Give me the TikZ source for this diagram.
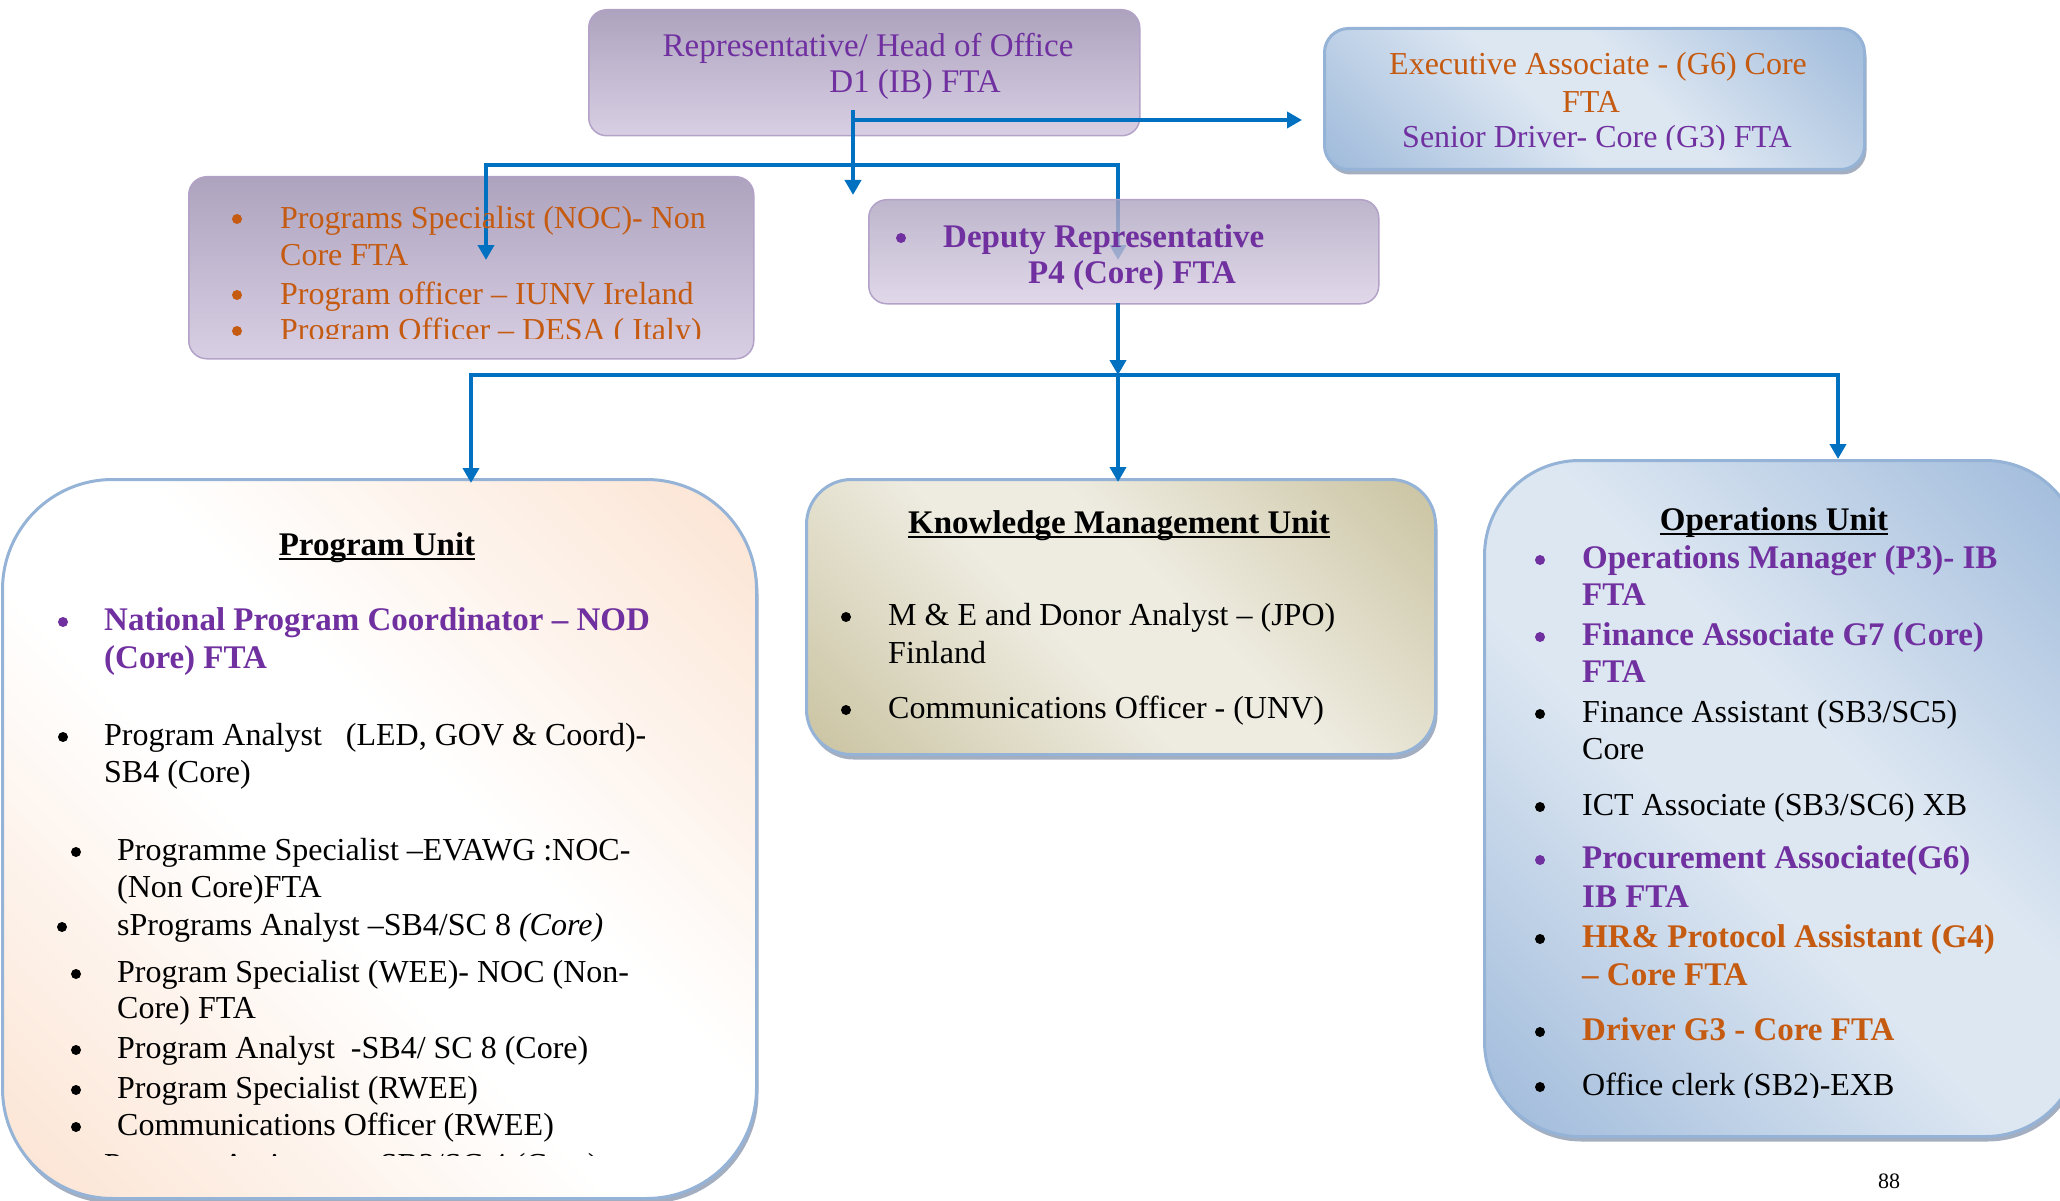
\documentclass[tikz,border=0pt]{standalone}
\usepackage{fontspec}
\setmainfont{Liberation Serif}
\usetikzlibrary{arrows.meta,shadows,calc}

\definecolor{txtpurple}{HTML}{7030A0}
\definecolor{txtorange}{HTML}{C55A11}
\definecolor{linkblue}{HTML}{0070C0}
\definecolor{lavtop}{HTML}{ADA3BE}
\definecolor{lavbot}{HTML}{D9CFE4}
\definecolor{lavedge}{HTML}{B3A2C7}
\definecolor{skyedge}{HTML}{95B3D7}
\definecolor{skydark}{HTML}{95B3D7}
\definecolor{skylight}{HTML}{DDE7F2}
\definecolor{tandark}{HTML}{C4BD97}
\definecolor{tanlight}{HTML}{EEECE1}
\definecolor{peach}{HTML}{FBDFCB}
\definecolor{shadowgrey}{HTML}{8C9AB0}
\colorlet{banddark}{skydark}
\colorlet{bandlight}{skylight}

% dark corners (top right, bottom left) with a broad light diagonal band
\pgfdeclarehorizontalshading[banddark,bandlight]{diagband}{100bp}{%
  color(0bp)=(banddark); color(10bp)=(banddark); color(44bp)=(bandlight);
  color(56bp)=(bandlight); color(90bp)=(banddark); color(100bp)=(banddark)}

\tikzset{
  lavbox/.style={draw=lavedge, line width=1.5, top color=lavtop, bottom color=lavbot,
    rounded corners=18, inner sep=0, anchor=north west},
  diagfill/.style 2 args={/utils/exec={\colorlet{banddark}{#1}\colorlet{bandlight}{#2}},
    shade, shading=diagband, shading angle=45},
  unitbox/.style={draw=skyedge, line width=3, inner sep=0, anchor=north west,
    drop shadow={shadow xshift=2pt, shadow yshift=-5pt, fill=shadowgrey, opacity=0.8}},
  link/.style={draw=linkblue, line width=4},
  tip/.style={-{Triangle[length=15pt,width=16pt]}},
  txt/.style={inner sep=0, font=\fontsize{32}{37}\selectfont},
  btxt/.style={inner sep=0, font=\fontsize{33}{37}\selectfont\bfseries},
  dot/.style={circle, fill=#1, inner sep=0, minimum size=10},
  uline/.style={line width=2},
}

\begin{document}
\begin{tikzpicture}[x=1pt,y=-1pt]
\useasboundingbox (0,0) rectangle (2060,1201);

% ---------- upper boxes ----------
\node[lavbox, minimum width=551, minimum height=126] (rep) at (588,9) {};
\node[unitbox, diagfill={skydark}{skylight}, rounded corners=24,
      minimum width=540, minimum height=141] (exe) at (1323,27) {};
\node[lavbox, minimum width=565, minimum height=182] (noc) at (188,176) {};

% ---------- lower unit boxes ----------
\node[unitbox, diagfill={peach}{white}, rounded corners=110,
      minimum width=754, minimum height=719] (pu) at (1,478) {};
\node[unitbox, diagfill={tandark}{tanlight}, rounded corners=45,
      minimum width=629, minimum height=275] (km) at (805,478) {};
\node[unitbox, diagfill={skydark}{skylight}, rounded corners=95,
      minimum width=596, minimum height=676] (ops) at (1483,459) {};

% ---------- connectors from the head of office ----------
\coordinate (repdrop) at (853,110);
\coordinate (repdroptip) at (853,195);
\coordinate (repside) at (851,120);
\coordinate (repsidetip) at (1302,120);
\coordinate (busL) at (486,165);
\coordinate (busR) at (1118,165);
\coordinate (noctip) at (486,260);
\coordinate (deptip) at (1118,260);

\draw[link, tip] (repdrop) -- (repdroptip);
\draw[link, tip] (repside) -- (repsidetip);
\draw[link, {Triangle[length=15pt,width=16pt]}-{Triangle[length=15pt,width=16pt]}]
  (noctip) -- (busL) -- (busR) -- (deptip);

% deputy box sits over its incoming arrow
\node[lavbox, fill opacity=0.8, minimum width=510, minimum height=104] (dep) at (868,199) {};

% ---------- connectors from the deputy ----------
\coordinate (depout) at (1118,303);
\coordinate (bus2L) at (471,375);
\coordinate (bus2M) at (1118,375);
\coordinate (bus2R) at (1838,375);
\coordinate (putip) at (471,483);
\coordinate (kmtip) at (1118,482);
\coordinate (opstip) at (1838,459);

\draw[link, tip] (depout) -- (bus2M);
\draw[link, {Triangle[length=15pt,width=16pt]}-{Triangle[length=15pt,width=16pt]}]
  (putip) -- (bus2L) -- (bus2R) -- (opstip);
\draw[link, tip] (bus2M) -- (kmtip);

% ---------- head of office ----------
\node[txt, font=\fontsize{33}{37}\selectfont, text=txtpurple, anchor=base] (rep1) at (868,57) {Representative/ Head of Office};
\node[txt, font=\fontsize{33}{37}\selectfont, text=txtpurple, anchor=base] (rep2) at (915,93) {D1 (IB) FTA};

% ---------- executive associate ----------
\node[txt, text=txtorange, anchor=base] (exe1) at (1598,75) {Executive Associate - (G6) Core};
\node[txt, text=txtorange, anchor=base] (exe2) at (1591,113) {FTA};
\begin{scope}
  \clip (1323,27) rectangle (1863,150);
  \node[txt, text=txtpurple, anchor=base] (exe3) at (1597,148) {Senior Driver- Core (G3) FTA};
\end{scope}

% ---------- non-core programme staff ----------
\node[dot=txtorange] (noc1d) at (237,219) {};
\node[txt, text=txtorange, anchor=base west] (noc1) at (280,228) {Programs Specialist (NOC)- Non};
\node[txt, text=txtorange, anchor=base west] (noc1b) at (280,265) {Core FTA};
\node[dot=txtorange] (noc2d) at (237,295) {};
\node[txt, text=txtorange, anchor=base west] (noc2) at (280,304) {Program officer – IUNV Ireland};
\begin{scope}
  \clip (188,176) rectangle (753,338);
  \node[dot=txtorange] (noc3d) at (237,331) {};
  \node[txt, text=txtorange, anchor=base west] (noc3) at (280,340) {Program Officer – DESA ( Italy)};
\end{scope}

% ---------- deputy ----------
\node[dot=txtpurple] (dep1d) at (901,238) {};
\node[btxt, text=txtpurple, anchor=base west] (dep1) at (943,247) {Deputy Representative};
\node[btxt, text=txtpurple, anchor=base west] (dep2) at (1028,283) {P4 (Core) FTA};

% ---------- program unit ----------
\node[btxt, anchor=base] (putitle) at (377,555) {Program Unit};
\draw[uline] ($(putitle.base west)+(0,4)$) -- ($(putitle.base east)+(0,4)$);
\node[dot=txtpurple] (pu1d) at (63,622) {};
\node[btxt, text=txtpurple, anchor=base west] (pu1) at (104,630) {National Program Coordinator – NOD};
\node[btxt, text=txtpurple, anchor=base west] (pu1b) at (104,668) {(Core) FTA};
\node[dot=black] (pu2d) at (63,737) {};
\node[txt, anchor=base west] (pu2) at (104,745) {Program Analyst\ \ \ (LED, GOV \& Coord)-};
\node[txt, anchor=base west] (pu2b) at (104,782) {SB4 (Core)};
\node[dot=black] (pu3d) at (76,852) {};
\node[txt, anchor=base west] (pu3) at (117,860) {Programme Specialist –EVAWG :NOC-};
\node[txt, anchor=base west] (pu3b) at (117,897) {(Non Core)FTA};
\node[dot=black] (pu4d) at (62,927) {};
\node[txt, anchor=base west] (pu4) at (117,935) {sPrograms Analyst –SB4/SC 8 \textit{(Core)}};
\node[dot=black] (pu5d) at (76,974) {};
\node[txt, anchor=base west] (pu5) at (117,982) {Program Specialist (WEE)- NOC (Non-};
\node[txt, anchor=base west] (pu5b) at (117,1018) {Core) FTA};
\node[dot=black] (pu6d) at (76,1050) {};
\node[txt, anchor=base west] (pu6) at (117,1058) {Program Analyst\ \ -SB4/ SC 8 (Core)};
\node[dot=black] (pu7d) at (76,1090) {};
\node[txt, anchor=base west] (pu7) at (117,1098) {Program Specialist (RWEE)};
\node[dot=black] (pu8d) at (76,1127) {};
\node[txt, anchor=base west] (pu8) at (117,1135) {Communications Officer (RWEE)};
\begin{scope}
  \clip (1,478) rectangle (755,1155);
  \node[txt, anchor=base west] (pu9) at (104,1175) {Program Assistant\ \ – SB3/SC 4 (Core)};
\end{scope}

% ---------- knowledge management unit ----------
\node[btxt, anchor=base] (kmtitle) at (1119,533) {Knowledge Management Unit};
\draw[uline] ($(kmtitle.base west)+(0,4)$) -- ($(kmtitle.base east)+(0,4)$);
\node[dot=black] (km1d) at (846,617) {};
\node[txt, anchor=base west] (km1) at (888,625) {M \& E and Donor Analyst – (JPO)};
\node[txt, anchor=base west] (km1b) at (888,663) {Finland};
\node[dot=black] (km2d) at (846,710) {};
\node[txt, anchor=base west] (km2) at (888,718) {Communications Officer - (UNV)};

% ---------- operations unit ----------
\node[btxt, anchor=base] (opstitle) at (1774,530) {Operations Unit};
\draw[uline] ($(opstitle.base west)+(0,4)$) -- ($(opstitle.base east)+(0,4)$);
\node[dot=txtpurple] (op1d) at (1540,560) {};
\node[btxt, text=txtpurple, anchor=base west] (op1) at (1582,568) {Operations Manager (P3)- IB};
\node[btxt, text=txtpurple, anchor=base west] (op1b) at (1582,605) {FTA};
\node[dot=txtpurple] (op2d) at (1540,637) {};
\node[btxt, text=txtpurple, anchor=base west] (op2) at (1582,645) {Finance Associate G7 (Core)};
\node[btxt, text=txtpurple, anchor=base west] (op2b) at (1582,682) {FTA};
\node[dot=black] (op3d) at (1540,714) {};
\node[txt, anchor=base west] (op3) at (1582,722) {Finance Assistant (SB3/SC5)};
\node[txt, anchor=base west] (op3b) at (1582,759) {Core};
\node[dot=black] (op4d) at (1540,807) {};
\node[txt, anchor=base west] (op4) at (1582,815) {ICT Associate (SB3/SC6) XB};
\node[dot=txtpurple] (op5d) at (1540,860) {};
\node[btxt, text=txtpurple, anchor=base west] (op5) at (1582,868) {Procurement Associate(G6)};
\node[btxt, text=txtpurple, anchor=base west] (op5b) at (1582,907) {IB FTA};
\node[dot=black] (op6d) at (1540,939) {};
\node[btxt, text=txtorange, anchor=base west] (op6) at (1582,947) {HR\& Protocol Assistant (G4)};
\node[btxt, text=txtorange, anchor=base west] (op6b) at (1582,985) {– Core FTA};
\node[dot=black] (op7d) at (1540,1032) {};
\node[btxt, text=txtorange, anchor=base west] (op7) at (1582,1040) {Driver G3 - Core FTA};
\node[dot=black] (op8d) at (1540,1087) {};
\begin{scope}
  \clip (1483,459) rectangle (2060,1097);
  \node[txt, anchor=base west] (op8) at (1582,1095) {Office clerk (SB2)-EXB};
\end{scope}

% ---------- page number ----------
\node[inner sep=0, font=\fontsize{22}{26}\selectfont, anchor=base] (pageno) at (1889,1188) {88};
\end{tikzpicture}
\end{document}
